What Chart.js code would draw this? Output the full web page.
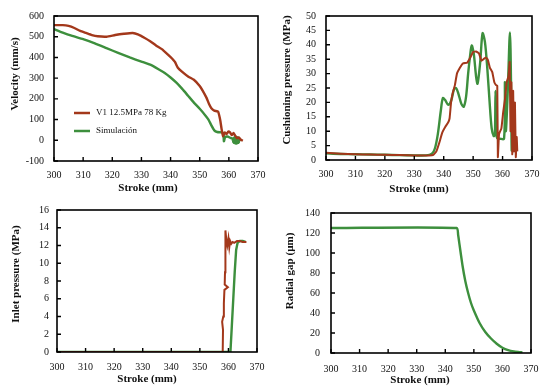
<!DOCTYPE html>
<html lang="es">
<head>
<meta charset="UTF-8">
<title>Stroke - velocity, cushioning, inlet pressure, radial gap</title>
<script src="https://cdn.jsdelivr.net/npm/chart.js"></script>
<style>
    body { margin: 0; background: #fff; }
    .wrap { position: relative; width: 550px; height: 392px; }
    .cell { position: absolute; width: 275px; height: 196px; }
</style>
</head>
<body>
<div class="wrap">
    <div class="cell" style="left:0;top:0"><canvas id="velChart"></canvas></div>
    <div class="cell" style="left:275px;top:0"><canvas id="cushChart"></canvas></div>
    <div class="cell" style="left:0;top:196px"><canvas id="inletChart"></canvas></div>
    <div class="cell" style="left:275px;top:196px"><canvas id="gapChart"></canvas></div>
</div>
<script>
// ---- data ----
const xTicks = [300, 310, 320, 330, 340, 350, 360, 370];
const measLabel = 'V1 12.5MPa 78 Kg';
const simLabel = 'Simulación';

// velocity (mm/s)
const velMeasX = [300, 303, 305, 307, 309, 311, 313, 315, 318, 321, 324, 327, 329, 331, 333, 335, 337, 339, 340.5, 341.5, 342.5, 344, 346, 348, 350, 351, 352.3, 353.2, 354, 355, 356.3, 357, 357.5, 358, 358.6, 359.2, 359.8, 360.4, 361, 361.6, 362.2, 362.8, 363.4, 364, 364.8];
const velMeas  = [556, 556, 552, 542, 528, 518, 508, 502, 500, 508, 514, 518, 510, 495, 478, 458, 440, 415, 395, 378, 350, 330, 308, 292, 262, 240, 206, 175, 155, 143, 138, 100, 55, 20, 38, 30, 42, 38, 25, 35, 22, 10, 14, 4, -2];
const velSimX  = [300, 303, 306, 310, 314, 318, 322, 326, 330, 333, 336, 338, 340, 342, 344, 346, 348, 350, 352, 353, 354, 355, 356, 357.5, 358.1, 358.3, 358.7, 359.5, 360.5, 361.5, 362.5];
const velSim   = [537, 520, 505, 488, 468, 445, 422, 400, 380, 365, 342, 325, 303, 278, 248, 215, 182, 152, 119, 100, 72, 48, 40, 38, 35, -5, 14, 18, 12, 6, 0];

// cushioning pressure (MPa)
const cushMeasX = [300, 305, 310, 315, 320, 325, 330, 335, 336.5, 337.5, 338.5, 339.5, 340.5, 341.5, 342, 342.5, 343, 343.8, 344.5, 345.5, 346.5, 348, 349, 350, 351, 352, 352.8, 353.5, 354.3, 355, 355.7, 356.5, 357.2, 357.8, 358.2, 358.4, 358.8, 359.6, 360.2, 360.8, 361.4, 362, 362.4, 362.7, 363, 363.3, 363.6, 363.9, 364.2, 364.5, 364.8, 365];
const cushMeas  = [2.5, 2.2, 2.0, 1.9, 1.8, 1.7, 1.6, 1.6, 1.8, 3, 6, 9.5, 11.5, 13, 14.5, 20, 23, 26, 30, 32, 33.5, 33.8, 35.5, 37.5, 37.7, 37, 34.5, 35, 35.6, 34.8, 32, 30.5, 27, 26, 25.8, 1, 9, 11, 16.5, 21, 27, 29, 34, 10, 27, 2, 24, 3, 20, 1, 8, 3];
const cushSimX  = [300, 305, 310, 315, 320, 325, 330, 334, 336, 337, 338, 339, 339.7, 340.5, 341.5, 342.5, 343.5, 344.2, 345, 346, 346.8, 347.6, 348.3, 349, 349.5, 350.2, 351, 351.5, 352.4, 353.2, 354, 354.8, 355.6, 356.3, 357, 357.4, 357.6, 357.9, 358.2, 359, 360.5, 360.8, 361.1, 361.8, 362.5, 362.9, 363.1, 363.4, 363.7];
const cushSim   = [2.3, 2.1, 2.0, 1.9, 1.8, 1.7, 1.6, 1.6, 2.2, 4, 9, 17, 21.5, 20.8, 19.2, 20.5, 24.5, 25, 23, 19.5, 18.5, 22, 30, 36.5, 39.8, 37, 29, 26.5, 34, 44, 41, 32, 20, 11, 8.3, 9, 24, 9, 7.5, 7.4, 7.4, 27, 10, 25, 44.3, 25, 3.4, 10, 5];

// inlet pressure (MPa)
const inletMeasX = [300, 320, 340, 355, 358, 358.1, 357.8, 358.2, 358.4, 358.6, 359.8, 358.7, 358.8, 358.9, 359, 359.3, 359.6, 360, 360.3, 360.6, 361, 361.5, 362, 363, 364, 365, 366.3];
const inletMeas  = [0, 0, 0, 0, 0, 2.5, 3.4, 4, 5.5, 7, 7.3, 7.6, 9, 11, 13.7, 12.5, 12, 12.8, 11.8, 12.5, 12.2, 12.4, 12.3, 12.5, 12.5, 12.4, 12.4];
const inletSimX  = [300, 320, 340, 360.7, 361.2, 361.7, 362.2, 362.7, 363.2, 364, 365, 366];
const inletSim   = [0, 0, 0, 0, 3, 6, 9, 11.5, 12.3, 12.5, 12.5, 12.4];

// radial gap (µm)
const gapX = [300, 344, 344.5, 345, 346, 347, 348, 349, 350, 352, 354, 356, 358, 360, 362, 364, 366, 367];
const gap  = [125, 125, 118, 108, 88, 72, 60, 50, 42.5, 30, 21, 14.5, 9.3, 5.3, 2.8, 1.5, 0.9, 0.6];

// ---- styling ----
const RED = '#a3381b';
const GREEN = '#3d8f3d';
const SERIF = '"Liberation Serif", "DejaVu Serif", serif';
const tickFont = { family: SERIF, size: 10 };

function pts(xs, ys) {
    return xs.map((x, i) => ({ x: x, y: ys[i] }));
}

// frame, inward ticks and axis titles
const framePlugin = {
    id: 'frame',
    afterDatasetsDraw(chart, args, opts) {
        const { ctx, chartArea: a, scales: { x, y } } = chart;
        ctx.save();
        ctx.strokeStyle = '#000';
        ctx.lineWidth = 1.6;
        ctx.strokeRect(a.left, a.top, a.right - a.left, a.bottom - a.top);
        ctx.lineWidth = 1.4;
        ctx.beginPath();
        x.ticks.forEach(t => {
            const px = x.getPixelForValue(t.value);
            ctx.moveTo(px, a.bottom);
            ctx.lineTo(px, a.bottom - 4);
        });
        y.ticks.forEach(t => {
            const py = y.getPixelForValue(t.value);
            ctx.moveTo(a.left, py);
            ctx.lineTo(a.left + 4, py);
        });
        ctx.stroke();

        ctx.fillStyle = '#111';
        ctx.font = 'bold 11px ' + SERIF;
        ctx.textAlign = 'center';
        ctx.textBaseline = 'middle';
        ctx.fillText('Stroke (mm)', opts.xTitle[0], opts.xTitle[1]);
        ctx.translate(opts.yTitle[0], opts.yTitle[1]);
        ctx.rotate(-Math.PI / 2);
        ctx.fillText(opts.yText, 0, 0);
        ctx.restore();

        if (opts.legend) {
            ctx.save();
            ctx.font = '9px ' + SERIF;
            ctx.textBaseline = 'middle';
            ctx.fillStyle = '#111';
            chart.data.datasets.forEach((ds, i) => {
                const ly = opts.legend.y + i * opts.legend.gap;
                ctx.strokeStyle = ds.borderColor;
                ctx.lineWidth = 2.5;
                ctx.beginPath();
                ctx.moveTo(opts.legend.x, ly);
                ctx.lineTo(opts.legend.x + 16, ly);
                ctx.stroke();
                ctx.fillText(ds.label, opts.legend.x + 22, ly);
            });
            ctx.restore();
        }
    }
};

function makeChart(id, datasets, cfg) {
    return new Chart(document.getElementById(id), {
        type: 'line',
        data: { datasets: datasets },
        plugins: [framePlugin],
        options: {
            responsive: true,
            maintainAspectRatio: false,
            animation: false,
            layout: { padding: { top: cfg.top, right: cfg.right, left: 0, bottom: 0 } },
            elements: { point: { radius: 0 }, line: { borderWidth: 2.4 } },
            plugins: {
                legend: { display: false },
                tooltip: { enabled: false },
                frame: { xTitle: cfg.xTitle, yTitle: cfg.yTitle, yText: cfg.yText, legend: cfg.legend }
            },
            scales: {
                x: {
                    type: 'linear', min: 300, max: 370,
                    afterBuildTicks: s => { s.ticks = xTicks.map(v => ({ value: v })); },
                    ticks: { padding: cfg.xPad, font: tickFont, color: '#111', autoSkip: false, maxRotation: 0 },
                    grid: { display: false, drawTicks: false },
                    border: { display: false },
                    afterFit: s => { s.height = cfg.xH; }
                },
                y: {
                    type: 'linear', min: cfg.yMin, max: cfg.yMax,
                    ticks: { stepSize: cfg.yStep, padding: cfg.yPad, font: tickFont, color: '#111', autoSkip: false },
                    grid: { display: false, drawTicks: false },
                    border: { display: false },
                    afterFit: s => { s.width = cfg.yW; }
                }
            }
        }
    });
}

// velocity
makeChart('velChart', [
    { label: measLabel, data: pts(velMeasX, velMeas), borderColor: RED, backgroundColor: RED, tension: 0.15 },
    { label: simLabel, data: pts(velSimX, velSim), borderColor: GREEN, backgroundColor: GREEN, tension: 0.15,
      pointRadius: c => (c.dataIndex === velSim.length - 1 ? 4 : 0) }
], { top: 13, right: 17, yW: 54, xH: 35, yMin: -100, yMax: 600, yStep: 100, xPad: 8, yPad: 10,
     xTitle: [148, 188], yTitle: [15, 74], yText: 'Velocity (mm/s)',
     legend: { x: 74, y: 113, gap: 18 } });

// cushioning pressure
makeChart('cushChart', [
    { label: measLabel, data: pts(cushMeasX, cushMeas), borderColor: RED, backgroundColor: RED, borderWidth: 2, tension: 0.1 },
    { label: simLabel, data: pts(cushSimX, cushSim), borderColor: GREEN, backgroundColor: GREEN, tension: 0.3 }
], { top: 13, right: 18, yW: 51, xH: 36, yMin: 0, yMax: 50, yStep: 5, xPad: 8, yPad: 10,
     xTitle: [144, 189], yTitle: [12, 80], yText: 'Cushioning pressure (MPa)' });

// inlet pressure
makeChart('inletChart', [
    { label: measLabel, data: pts(inletMeasX, inletMeas), borderColor: RED, backgroundColor: RED, borderWidth: 2 },
    { label: simLabel, data: pts(inletSimX, inletSim), borderColor: GREEN, backgroundColor: GREEN }
], { top: 7, right: 18, yW: 57, xH: 40, yMin: 0, yMax: 16, yStep: 2, xPad: 9, yPad: 8,
     xTitle: [147, 183], yTitle: [16, 78], yText: 'Inlet pressure (MPa)' });

// radial gap
makeChart('gapChart', [
    { label: simLabel, data: pts(gapX, gap), borderColor: GREEN, backgroundColor: GREEN, tension: 0.2 }
], { top: 7, right: 19, yW: 56, xH: 39, yMin: 0, yMax: 140, yStep: 20, xPad: 10, yPad: 11,
     xTitle: [145, 184], yTitle: [15, 75], yText: 'Radial gap (µm)' });
</script>
</body>
</html>
